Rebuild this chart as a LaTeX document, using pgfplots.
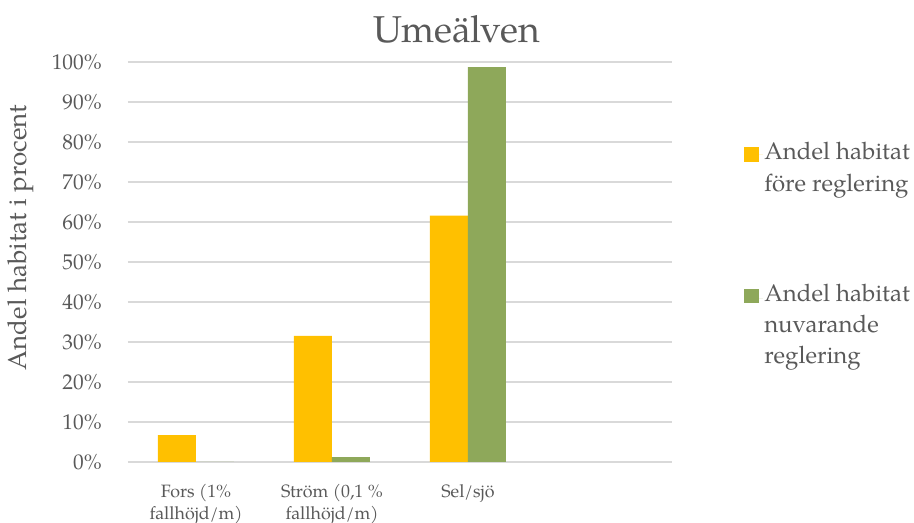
\documentclass[border=0pt]{standalone}
\usepackage{fontspec}
\setmainfont{TeX Gyre Pagella}
\usepackage{pgfplots}
\pgfplotsset{compat=1.18}
\definecolor{txt}{HTML}{595959}
\definecolor{grd}{HTML}{D9D9D9}
\definecolor{orng}{HTML}{FFC000}
\definecolor{grn}{HTML}{8EA85A}
\begin{document}
\begin{tikzpicture}
\begin{axis}[
  at={(0pt,0pt)}, anchor=south west,
  scale only axis, width=408pt, height=300pt,
  clip=false,
  ybar=0pt, bar width=28.5pt,
  xmin=-0.5, xmax=3.5, ymin=0, ymax=100,
  xtick={0,1,2,3},
  xticklabels={{Fors (1\%\\fallhöjd/m)},{Ström (0,1 \%\\fallhöjd/m)},{Sel/sjö},{}},
  ytick={0,10,...,100},
  yticklabel={\pgfmathprintnumber{\tick}\%},
  /pgf/number format/assume math mode=true,
  major tick length=0pt,
  axis line style={draw=none},
  ymajorgrids, major grid style={draw=grd, line width=0.9pt},
  tick label style={text=txt},
  yticklabel style={font=\fontsize{16}{18}\selectfont, inner sep=0pt, xshift=-19.5pt},
  xticklabel style={font=\fontsize{13.4}{16.3}\selectfont, align=center, inner sep=0pt, yshift=-16.5pt},
  ylabel={Andel habitat i procent},
  ylabel style={at={(axis description cs:-0.197,0.561)}, anchor=center, text=txt, font=\fontsize{19.5}{22}\selectfont},
  legend style={draw=none, fill=none, at={(axis description cs:1.1250,0.81)}, anchor=north west,
     legend cell align=left, row sep=66pt,
     nodes={align=left, text=txt, font=\fontsize{18}{23.5}\selectfont, inner sep=1pt}},
]
\addplot[fill=orng, draw=none, legend image code/.code={\fill[orng] (0pt,4.5pt) rectangle (11pt,15.5pt); \path (11pt,10pt) -- (14pt,10pt);}] coordinates {(0,6.7) (1,31.5) (2,61.6)};
\addplot[fill=grn, draw=none, legend image code/.code={\fill[grn] (0pt,16pt) rectangle (11pt,27pt); \path (11pt,20pt) -- (14pt,20pt);}] coordinates {(0,0) (1,1.2) (2,98.7)};
\legend{{Andel habitat\\före reglering},{Andel habitat\\nuvarande\\reglering}}
\node[anchor=base, text=txt, font=\fontsize{28}{32}\selectfont] at (axis description cs:0.6048,1.0475) {Umeälven};
\end{axis}
\pgfresetboundingbox
\useasboundingbox (-96pt,-45.75pt) rectangle (589.5pt,346.5pt);
\end{tikzpicture}
\end{document}
